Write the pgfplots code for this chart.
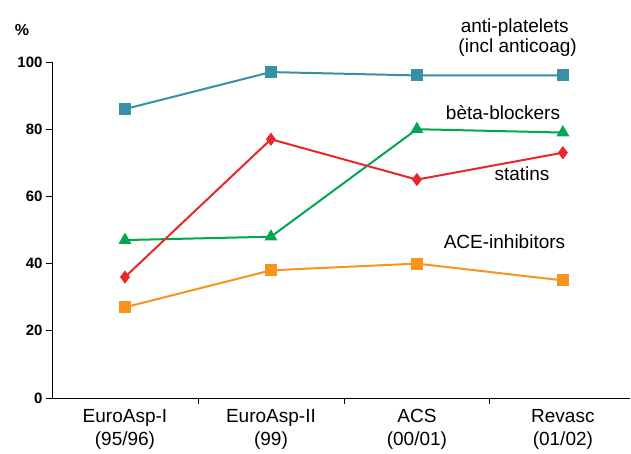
\documentclass[border=0pt]{standalone}
\usepackage{pgfplots}
\pgfplotsset{compat=1.18}
\usepackage{fontspec}
\setmainfont{Liberation Sans}
\definecolor{cteal}{HTML}{3590A8}
\definecolor{cgreen}{HTML}{00A650}
\definecolor{cred}{HTML}{E8262C}
\definecolor{corange}{HTML}{F7941E}
\begin{document}
\begin{tikzpicture}
\useasboundingbox (-52pt,-56pt) rectangle (579pt,398pt);
\begin{axis}[
  at={(0,0)}, anchor=south west,
  scale only axis, width=578pt, height=336pt,
  xmin=-0.5, xmax=3.46, ymin=0, ymax=100,
  axis x line=bottom, axis y line=left,
  axis line style={-, black, line width=0.8pt},
  clip=false,
  xtick={0,1,2,3},
  xticklabels={{EuroAsp-I\\(95/96)},{EuroAsp-II\\(99)},{ACS\\(00/01)},{Revasc\\(01/02)}},
  xticklabel style={align=center, font=\fontsize{19}{23}\selectfont, yshift=-2pt},
  minor xtick={0.5,1.5,2.5},
  major x tick style={draw=none},
  minor x tick style={black, line width=0.8pt},
  ytick={0,20,40,60,80,100},
  yticklabel style={font=\fontsize{15}{17}\selectfont\bfseries},
  /pgf/number format/assume math mode=true,
  tick align=outside,
  major tick length=6pt, minor tick length=6pt,
  ytick style={black, line width=0.8pt},
  every axis plot/.append style={line width=2pt},
]
\addplot[cteal, mark=square*, mark size=5pt, mark options={solid}] coordinates {(0,86) (1,97) (2,96) (3,96)};
\addplot[cgreen, mark=triangle*, mark size=5.5pt] coordinates {(0,47) (1,48) (2,80) (3,79)};
\addplot[cred, mark=diamond*, mark size=5pt] coordinates {(0,36) (1,77) (2,65) (3,73)};
\addplot[corange, mark=square*, mark size=5pt] coordinates {(0,27) (1,38) (2,40) (3,35)};
\node[font=\fontsize{19}{23}\selectfont] at (axis cs:2.67,110.3) {anti-platelets};
\node[font=\fontsize{19}{23}\selectfont] at (axis cs:2.69,104.4) {(incl anticoag)};
\node[font=\fontsize{19}{23}\selectfont] at (axis cs:2.59,84.8) {bèta-blockers};
\node[font=\fontsize{19}{23}\selectfont] at (axis cs:2.72,66.8) {statins};
\node[font=\fontsize{19}{23}\selectfont] at (axis cs:2.60,46.6) {ACE-inhibitors};
\node[font=\fontsize{16}{18}\selectfont\bfseries] at (axis cs:-0.705,109.4) {\%};
\end{axis}
\end{tikzpicture}
\end{document}
